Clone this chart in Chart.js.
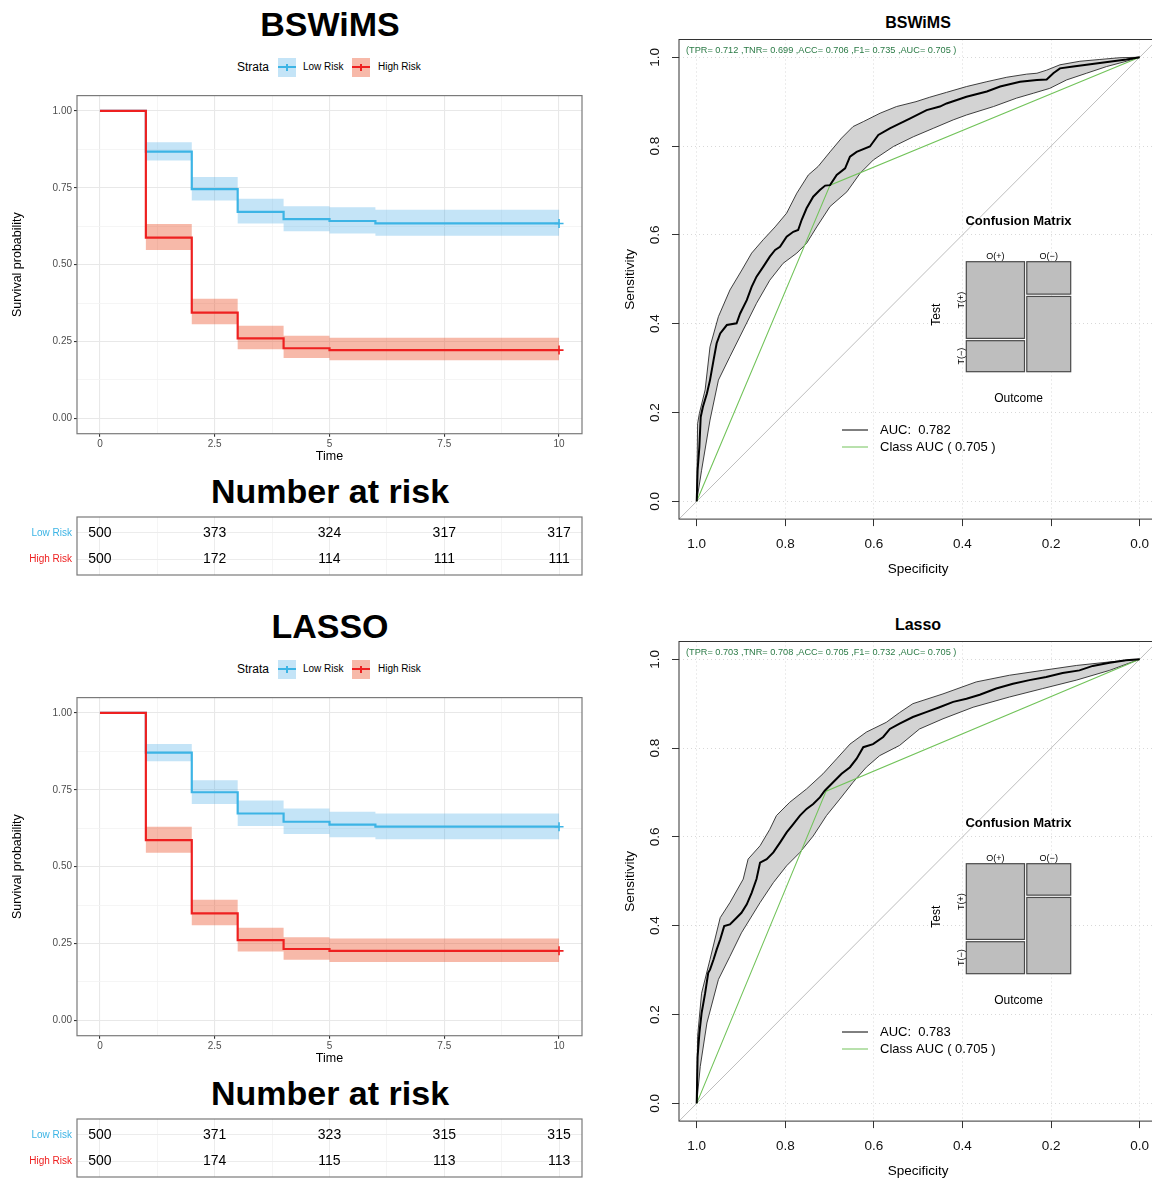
<!DOCTYPE html>
<html>
<head>
<meta charset="utf-8">
<title>BSWiMS vs LASSO: survival by risk group and ROC</title>
<script src="https://cdn.jsdelivr.net/npm/chart.js@4.4.1/dist/chart.umd.min.js"></script>
<style>
  html, body { margin:0; padding:0; background:#fff; }
  body { position:relative; width:1152px; height:1181px; overflow:hidden;
         font-family:"Liberation Sans", Arial, Helvetica, sans-serif; color:#000; }
  canvas { position:absolute; }
  .txt { position:absolute; white-space:nowrap; line-height:1; }
  .key { position:absolute; width:18px; height:19px; }
  .key .h { position:absolute; left:0; right:0; top:8.5px; height:2px; }
  .key .v { position:absolute; left:8.2px; width:1.6px; top:6px; height:7px; }
</style>
</head>
<body>
<script>
// ---------------- data ----------------
// Kaplan–Meier axes
const timeTicks = [0, 2.5, 5, 7.5, 10];
const survTicks = [0, 0.25, 0.5, 0.75, 1];
const followUpEnd = 10;

// Event times for each risk group; each estimate holds until the next time
const kmTimesLow  = [0, 1, 2, 3, 4, 5, 6];
const kmTimesHigh = [0, 1, 2, 3, 4, 5];

const bswLowSurv   = [1.000, 0.868, 0.746, 0.672, 0.648, 0.642, 0.634];
const bswLowLower  = [1.000, 0.839, 0.709, 0.634, 0.609, 0.601, 0.594];
const bswLowUpper  = [1.000, 0.898, 0.785, 0.714, 0.690, 0.687, 0.679];
const bswHighSurv  = [1.000, 0.588, 0.344, 0.260, 0.228, 0.222];
const bswHighLower = [1.000, 0.548, 0.306, 0.225, 0.196, 0.189];
const bswHighUpper = [1.000, 0.632, 0.389, 0.301, 0.269, 0.262];

const lassoLowSurv   = [1.000, 0.871, 0.742, 0.673, 0.646, 0.637, 0.630];
const lassoLowLower  = [1.000, 0.843, 0.704, 0.632, 0.606, 0.596, 0.589];
const lassoLowUpper  = [1.000, 0.899, 0.781, 0.715, 0.689, 0.679, 0.673];
const lassoHighSurv  = [1.000, 0.586, 0.348, 0.261, 0.232, 0.226];
const lassoHighLower = [1.000, 0.545, 0.309, 0.224, 0.197, 0.190];
const lassoHighUpper = [1.000, 0.630, 0.392, 0.301, 0.270, 0.266];

// Number at risk
const riskTimes  = [0, 2.5, 5, 7.5, 10];
const riskGroups = ['Low Risk', 'High Risk'];
const bswRiskLow    = [500, 373, 324, 317, 317];
const bswRiskHigh   = [500, 172, 114, 111, 111];
const lassoRiskLow  = [500, 371, 323, 315, 315];
const lassoRiskHigh = [500, 174, 115, 113, 113];

// ROC: [specificity, sensitivity]
const rocTicks = [0, 0.2, 0.4, 0.6, 0.8, 1];
const metricNames  = ['TPR', 'TNR', 'ACC', 'F1', 'AUC'];
const bswMetrics   = [0.712, 0.699, 0.706, 0.735, 0.705];
const lassoMetrics = [0.703, 0.708, 0.705, 0.732, 0.705];
const bswAuc = 0.782;
const lassoAuc = 0.783;
const outcomeShare = [0.57, 0.43];   // O(+), O(-)

const bswRoc = [[1.000,0.000],[0.998,0.070],[0.994,0.123],[0.991,0.190],[0.986,0.213],[0.977,0.243],[0.970,0.273],[0.962,0.318],[0.955,0.356],[0.947,0.378],[0.932,0.397],[0.910,0.401],[0.902,0.423],[0.887,0.453],[0.876,0.483],[0.865,0.506],[0.850,0.528],[0.835,0.551],[0.823,0.566],[0.812,0.573],[0.797,0.596],[0.782,0.607],[0.771,0.611],[0.763,0.634],[0.752,0.660],[0.737,0.686],[0.722,0.701],[0.710,0.711],[0.699,0.712],[0.684,0.735],[0.665,0.750],[0.654,0.776],[0.639,0.787],[0.609,0.799],[0.590,0.825],[0.564,0.840],[0.541,0.851],[0.519,0.862],[0.481,0.881],[0.451,0.889],[0.436,0.896],[0.391,0.911],[0.345,0.923],[0.315,0.934],[0.270,0.945],[0.232,0.949],[0.210,0.950],[0.195,0.964],[0.180,0.975],[0.150,0.979],[0.120,0.983],[0.090,0.987],[0.060,0.991],[0.030,0.995],[0.000,1.000]];
const bswRocUpper = [[1.000,0.000],[0.998,0.175],[0.994,0.198],[0.981,0.251],[0.970,0.348],[0.951,0.416],[0.925,0.476],[0.898,0.521],[0.876,0.559],[0.850,0.589],[0.823,0.618],[0.797,0.649],[0.774,0.694],[0.748,0.735],[0.726,0.754],[0.699,0.787],[0.673,0.818],[0.647,0.844],[0.624,0.855],[0.586,0.874],[0.549,0.889],[0.505,0.900],[0.474,0.910],[0.436,0.921],[0.391,0.934],[0.345,0.945],[0.300,0.955],[0.255,0.962],[0.232,0.964],[0.210,0.971],[0.180,0.983],[0.135,0.991],[0.090,0.995],[0.045,0.999],[0.000,1.000]];
const bswRocLower = [[1.000,0.000],[0.989,0.070],[0.970,0.183],[0.951,0.273],[0.925,0.326],[0.895,0.386],[0.865,0.446],[0.835,0.498],[0.805,0.536],[0.774,0.559],[0.752,0.581],[0.729,0.618],[0.699,0.664],[0.661,0.697],[0.631,0.739],[0.601,0.769],[0.556,0.799],[0.511,0.821],[0.466,0.840],[0.421,0.859],[0.391,0.870],[0.330,0.889],[0.278,0.908],[0.240,0.919],[0.203,0.930],[0.165,0.949],[0.120,0.964],[0.075,0.979],[0.030,0.991],[0.000,1.000]];

const lassoRoc = [[1.000,0.000],[0.998,0.105],[0.994,0.158],[0.989,0.203],[0.981,0.248],[0.974,0.294],[0.970,0.301],[0.962,0.324],[0.955,0.346],[0.947,0.369],[0.938,0.399],[0.925,0.403],[0.910,0.418],[0.899,0.429],[0.887,0.448],[0.876,0.474],[0.865,0.505],[0.857,0.542],[0.842,0.550],[0.827,0.565],[0.812,0.587],[0.797,0.610],[0.782,0.629],[0.767,0.648],[0.752,0.663],[0.737,0.674],[0.722,0.689],[0.711,0.704],[0.692,0.723],[0.673,0.742],[0.654,0.757],[0.639,0.776],[0.624,0.802],[0.602,0.809],[0.579,0.825],[0.564,0.843],[0.542,0.855],[0.512,0.870],[0.482,0.881],[0.452,0.892],[0.421,0.904],[0.391,0.911],[0.361,0.920],[0.324,0.934],[0.286,0.945],[0.249,0.953],[0.211,0.960],[0.174,0.969],[0.136,0.975],[0.106,0.985],[0.068,0.992],[0.031,0.998],[0.000,1.000]];
const lassoRocUpper = [[1.000,0.000],[0.998,0.151],[0.989,0.248],[0.970,0.324],[0.947,0.418],[0.925,0.452],[0.895,0.505],[0.884,0.550],[0.857,0.580],[0.835,0.617],[0.820,0.648],[0.790,0.678],[0.752,0.708],[0.715,0.742],[0.684,0.776],[0.654,0.809],[0.617,0.836],[0.572,0.858],[0.542,0.880],[0.512,0.900],[0.444,0.922],[0.369,0.949],[0.294,0.964],[0.219,0.975],[0.143,0.986],[0.068,0.994],[0.000,1.000]];
const lassoRocLower = [[1.000,0.000],[0.992,0.083],[0.977,0.181],[0.951,0.279],[0.925,0.331],[0.899,0.384],[0.857,0.452],[0.827,0.497],[0.797,0.535],[0.767,0.565],[0.737,0.602],[0.707,0.648],[0.677,0.685],[0.647,0.723],[0.617,0.757],[0.587,0.783],[0.542,0.806],[0.497,0.843],[0.444,0.866],[0.376,0.892],[0.294,0.915],[0.219,0.934],[0.143,0.953],[0.068,0.975],[0.000,1.000]];

// ---------------- styling ----------------
const FONT = '"Liberation Sans", Arial, Helvetica, sans-serif';
const LOW_COLOR = '#3cb4e5';
const HIGH_COLOR = '#ee2020';
const LOW_BAND = 'rgba(60,165,230,0.30)';
const HIGH_BAND = 'rgba(233,72,30,0.38)';
const CLASS_GREEN = '#72c35a';
const METRIC_GREEN = '#2a7a45';

Chart.defaults.font.family = FONT;
Chart.defaults.color = '#000';
Chart.defaults.animation = false;
Chart.defaults.responsive = false;
Chart.defaults.events = [];
Chart.defaults.plugins.legend.display = false;
Chart.defaults.plugins.tooltip.enabled = false;

// ---------------- helpers ----------------
function addCanvas(x, y, w, h) {
  const c = document.createElement('canvas');
  c.width = w; c.height = h;
  c.style.left = x + 'px'; c.style.top = y + 'px';
  c.style.width = w + 'px'; c.style.height = h + 'px';
  document.body.appendChild(c);
  return c;
}
function addText(text, x, y, css, centered) {
  const d = document.createElement('div');
  d.className = 'txt';
  d.textContent = text;
  d.style.cssText = `left:${x}px;top:${y}px;${css}` +
    (centered ? 'transform:translate(-50%,-50%);' : 'transform:translate(0,-50%);');
  document.body.appendChild(d);
}
function addKey(x, y, line, band) {
  const k = document.createElement('div');
  k.className = 'key';
  k.style.left = x + 'px'; k.style.top = y + 'px'; k.style.background = band;
  k.innerHTML = `<div class="h" style="background:${line}"></div><div class="v" style="background:${line}"></div>`;
  document.body.appendChild(k);
}
function withMinor(major) {
  const out = [];
  major.forEach((v, i) => { if (i > 0) out.push((major[i - 1] + v) / 2); out.push(v); });
  return out;
}
function stepLine(times, values, end) {
  const pts = [];
  times.forEach((t, i) => {
    if (i > 0) pts.push({ x: t, y: values[i - 1] });
    pts.push({ x: t, y: values[i] });
  });
  pts.push({ x: end, y: values[values.length - 1] });
  return pts;
}
function stepBand(times, lower, upper, end) {
  return stepLine(times, upper, end).concat(stepLine(times, lower, end).reverse());
}
const toPoints = pairs => pairs.map(([s, v]) => ({ x: s, y: v }));
const last = a => a[a.length - 1];

const timeGrid = withMinor(timeTicks);
const survGrid = withMinor(survTicks);
const isMajorT = c => c.tick && timeTicks.includes(c.tick.value);
const isMajorS = c => c.tick && survTicks.includes(c.tick.value);

// ---------------- plugins ----------------
const panelBorder = {
  id: 'panelBorder',
  afterDraw(chart, args, o) {
    const { ctx, chartArea: a } = chart;
    ctx.save();
    ctx.strokeStyle = o.color || '#7a7a7a';
    ctx.lineWidth = o.width || 1.2;
    ctx.strokeRect(a.left, a.top, a.right - a.left, a.bottom - a.top);
    ctx.restore();
  }
};

const riskNumbers = {
  id: 'riskNumbers',
  afterDraw(chart, args, o) {
    const { ctx, scales: { x, y } } = chart;
    ctx.save();
    ctx.font = `14px ${FONT}`;
    ctx.fillStyle = '#000';
    ctx.textAlign = 'center';
    ctx.textBaseline = 'middle';
    o.rows.forEach((row, r) => {
      const yy = y.getPixelForValue(riskGroups.length - r);
      row.forEach((n, i) => ctx.fillText(String(n), x.getPixelForValue(riskTimes[i]), yy));
    });
    ctx.restore();
  }
};

const rocNotes = {
  id: 'rocNotes',
  afterDraw(chart, args, o) {
    const { ctx, chartArea: a, scales: { y } } = chart;
    ctx.save();
    // box around the plotting region
    ctx.strokeStyle = '#333';
    ctx.lineWidth = 1;
    ctx.strokeRect(a.left, a.top, a.right - a.left, a.bottom - a.top);
    // sensitivity labels, parallel to the axis
    ctx.fillStyle = '#111';
    ctx.font = `13.5px ${FONT}`;
    ctx.textAlign = 'center';
    ctx.textBaseline = 'middle';
    y.ticks.forEach(t => {
      ctx.save();
      ctx.translate(a.left - 24, y.getPixelForValue(t.value));
      ctx.rotate(-Math.PI / 2);
      ctx.fillText(t.value.toFixed(1), 0, 0);
      ctx.restore();
    });
    // classifier summary
    ctx.fillStyle = METRIC_GREEN;
    ctx.font = `9.2px ${FONT}`;
    ctx.textAlign = 'left';
    ctx.fillText(o.metrics, a.left + 7, a.top + 11);
    // legend
    ctx.font = `13px ${FONT}`;
    ctx.fillStyle = '#000';
    o.legend.forEach((item, i) => {
      const yy = a.top + 390.5 + i * 17;
      ctx.strokeStyle = item.color;
      ctx.lineWidth = 1;
      ctx.beginPath();
      ctx.moveTo(a.left + 163, yy);
      ctx.lineTo(a.left + 189, yy);
      ctx.stroke();
      ctx.fillText(item.text, a.left + 201, yy);
    });
    ctx.restore();
  }
};

const mosaicPlot = {
  id: 'mosaicPlot',
  afterDraw(chart, args, o) {
    const { ctx, chartArea: a, scales: { x, y } } = chart;
    const gx = 0.022, gy = 0.021;
    const w0 = o.share[0] * (1 - gx);
    const cols = [
      { x0: 0, x1: w0, pos: o.tpr, label: 'O(+)' },
      { x0: w0 + gx, x1: 1, pos: 1 - o.tnr, label: 'O(\u2212)' }
    ];
    const px = v => x.getPixelForValue(v);
    const py = v => y.getPixelForValue(v);
    const rect = (x0, y0, x1, y1) => {
      const L = px(x0), R = px(x1), T = py(y1), B = py(y0);
      ctx.fillRect(L, T, R - L, B - T);
      ctx.strokeRect(L, T, R - L, B - T);
    };
    ctx.save();
    ctx.fillStyle = '#bebebe';
    ctx.strokeStyle = '#4a4a4a';
    ctx.lineWidth = 1.2;
    const rows = [];
    cols.forEach(c => {
      const hTop = c.pos * (1 - gy);
      ctx.fillStyle = '#bebebe';
      rect(c.x0, 1 - hTop, c.x1, 1);
      rect(c.x0, 0, c.x1, 1 - hTop - gy);
      rows.push([(1 + 1 - hTop) / 2, (1 - hTop - gy) / 2]);
    });
    ctx.fillStyle = '#000';
    ctx.textAlign = 'center';
    ctx.textBaseline = 'middle';
    ctx.font = `bold 13px ${FONT}`;
    ctx.fillText('Confusion Matrix', (a.left + a.right) / 2, a.top - 40);
    ctx.font = `9px ${FONT}`;
    cols.forEach(c => ctx.fillText(c.label, px((c.x0 + c.x1) / 2), a.top - 5));
    [['T(+)', rows[0][0]], ['T(\u2212)', rows[0][1]]].forEach(([t, v]) => {
      ctx.save();
      ctx.translate(a.left - 4.6, py(v));
      ctx.rotate(-Math.PI / 2);
      ctx.fillText(t, 0, 0);
      ctx.restore();
    });
    ctx.font = `12px ${FONT}`;
    ctx.fillText('Outcome', (a.left + a.right) / 2, a.bottom + 26.6);
    ctx.save();
    ctx.translate(a.left - 29.6, (a.top + a.bottom) / 2 - 2);
    ctx.rotate(-Math.PI / 2);
    ctx.fillText('Test', 0, 0);
    ctx.restore();
    ctx.restore();
  }
};

// ---------------- panels ----------------
function survivalPanel(p) {
  const dy = p.dy;
  addText(p.name, 330, 24 + dy, 'font-size:34px;font-weight:bold;', true);
  addText('Strata', 237, 67 + dy, 'font-size:12px;', false);
  addKey(278, 57.5 + dy, LOW_COLOR, LOW_BAND);
  addText(riskGroups[0], 303, 67 + dy, 'font-size:10px;', false);
  addKey(352, 57.5 + dy, HIGH_COLOR, HIGH_BAND);
  addText(riskGroups[1], 378, 67 + dy, 'font-size:10px;', false);

  const cv = addCanvas(0, 86 + dy, 590, 384);
  new Chart(cv, {
    type: 'line',
    data: {
      datasets: [
        { data: [{ x: followUpEnd, y: last(p.high[0]) }], borderColor: HIGH_COLOR, pointStyle: 'cross',
          pointRadius: 4.5, pointBorderWidth: 1.6, showLine: false },
        { data: [{ x: followUpEnd, y: last(p.low[0]) }], borderColor: LOW_COLOR, pointStyle: 'cross',
          pointRadius: 4.5, pointBorderWidth: 1.6, showLine: false },
        { data: stepLine(kmTimesHigh, p.high[0], followUpEnd), borderColor: HIGH_COLOR, borderWidth: 2.2, pointRadius: 0 },
        { data: stepLine(kmTimesLow, p.low[0], followUpEnd), borderColor: LOW_COLOR, borderWidth: 2.2, pointRadius: 0 },
        { data: stepBand(kmTimesHigh, p.high[1], p.high[2], followUpEnd), fill: 'shape', backgroundColor: HIGH_BAND,
          borderColor: 'rgba(0,0,0,0)', borderWidth: 1, pointRadius: 0 },
        { data: stepBand(kmTimesLow, p.low[1], p.low[2], followUpEnd), fill: 'shape', backgroundColor: LOW_BAND,
          borderColor: 'rgba(0,0,0,0)', borderWidth: 1, pointRadius: 0 }
      ]
    },
    options: {
      layout: { padding: { left: 0, top: 9.6, right: 8, bottom: 0 } },
      plugins: { panelBorder: { color: '#7a7a7a', width: 1.2 } },
      scales: {
        x: {
          type: 'linear', min: -0.5, max: 10.5,
          afterBuildTicks: s => { s.ticks = timeGrid.map(v => ({ value: v })); },
          afterFit: s => { s.height = 36.3; },
          border: { display: false },
          grid: {
            color: c => isMajorT(c) ? '#e8e8e8' : '#f3f3f3',
            lineWidth: c => isMajorT(c) ? 1.1 : 0.8,
            tickColor: c => isMajorT(c) ? '#333' : 'rgba(0,0,0,0)',
            tickLength: 3
          },
          ticks: { autoSkip: false, maxRotation: 0, padding: 1.5, color: '#4d4d4d', font: { size: 10 },
                   callback: v => timeTicks.includes(v) ? String(v) : '' },
          title: { display: true, text: 'Time', color: '#000', font: { size: 12.5 }, padding: { top: 0, bottom: 5.5 } }
        },
        y: {
          type: 'linear', min: -0.05, max: 1.05,
          afterBuildTicks: s => { s.ticks = survGrid.map(v => ({ value: v })); },
          afterFit: s => { s.width = 77; },
          border: { display: false },
          grid: {
            color: c => isMajorS(c) ? '#e8e8e8' : '#f3f3f3',
            lineWidth: c => isMajorS(c) ? 1.1 : 0.8,
            tickColor: c => isMajorS(c) ? '#333' : 'rgba(0,0,0,0)',
            tickLength: 3
          },
          ticks: { autoSkip: false, padding: 2, color: '#4d4d4d', font: { size: 10 },
                   callback: v => survTicks.includes(v) ? v.toFixed(2) : '' },
          title: { display: true, text: 'Survival probability', color: '#000', font: { size: 12.5 },
                   padding: { top: 10, bottom: 0 } }
        }
      }
    },
    plugins: [panelBorder]
  });

  // number-at-risk table
  addText('Number at risk', 330, 491 + dy, 'font-size:34px;font-weight:bold;', true);
  const tv = addCanvas(0, 506 + dy, 590, 80);
  const groupColors = [LOW_COLOR, HIGH_COLOR];
  new Chart(tv, {
    type: 'line',
    data: { datasets: [] },
    options: {
      layout: { padding: { left: 0, top: 10.7, right: 8, bottom: 9.3 } },
      plugins: { panelBorder: { color: '#7a7a7a', width: 1.2 }, riskNumbers: { rows: p.risk } },
      scales: {
        x: {
          type: 'linear', min: -0.5, max: 10.5,
          afterBuildTicks: s => { s.ticks = timeGrid.map(v => ({ value: v })); },
          afterFit: s => { s.height = 0; },
          border: { display: false },
          grid: { color: c => isMajorT(c) ? '#ececec' : '#f5f5f5', drawTicks: false },
          ticks: { display: false }
        },
        y: {
          type: 'linear', min: 0.4, max: riskGroups.length + 0.6,
          afterBuildTicks: s => { s.ticks = riskGroups.map((g, i) => ({ value: riskGroups.length - i })); },
          afterFit: s => { s.width = 77; },
          border: { display: false },
          grid: { color: '#ececec', drawTicks: false },
          ticks: { padding: 5, font: { size: 10 },
                   color: c => groupColors[riskGroups.length - c.tick.value],
                   callback: v => riskGroups[riskGroups.length - v] }
        }
      }
    },
    plugins: [panelBorder, riskNumbers]
  });
}

function rocPanel(p) {
  const dy = p.dy;
  addText(p.rocName, 918, 23 + dy, 'font-size:16px;font-weight:bold;', true);
  const tpr = p.metrics[0], tnr = p.metrics[1];
  const classAuc = p.metrics[4];
  const metricsText = '(' + metricNames.map((n, i) => `${n}= ${p.metrics[i].toFixed(3)}`).join(' ,') + ' )';
  const cv = addCanvas(600, dy, 560, 590);
  const lo = -0.04, hi = 1.04;
  new Chart(cv, {
    type: 'line',
    data: {
      datasets: [
        { data: toPoints(p.roc), borderColor: '#000', borderWidth: 2, pointRadius: 0 },
        { data: toPoints([[1, 0], [tnr, tpr], [0, 1]]), borderColor: CLASS_GREEN, borderWidth: 1.1, pointRadius: 0 },
        { data: toPoints(p.upper.concat(p.lower.slice().reverse())), fill: 'shape', backgroundColor: '#d3d3d3',
          borderColor: '#2a2a2a', borderWidth: 0.9, pointRadius: 0 },
        // chance line: sensitivity = 1 - specificity, across the whole box
        { data: [{ x: hi, y: 1 - hi }, { x: lo, y: 1 - lo }], borderColor: '#bdbdbd', borderWidth: 1, pointRadius: 0 }
      ]
    },
    options: {
      layout: { padding: { left: 0, top: 39.5, right: 2.6, bottom: 0 } },
      plugins: {
        rocNotes: {
          metrics: metricsText,
          legend: [
            { text: 'AUC:  ' + p.auc.toFixed(3), color: '#000' },
            { text: 'Class AUC ( ' + classAuc.toFixed(3) + ' )', color: CLASS_GREEN }
          ]
        }
      },
      scales: {
        x: {
          type: 'linear', reverse: true, min: lo, max: hi,
          afterBuildTicks: s => { s.ticks = rocTicks.map(v => ({ value: v })); },
          afterFit: s => { s.height = 70.9; },
          border: { display: false, dash: [1, 3] },
          grid: { color: '#d8d8d8', lineWidth: 1, tickColor: '#333', tickLength: 7, tickWidth: 1 },
          ticks: { autoSkip: false, maxRotation: 0, padding: 9.8, color: '#111', font: { size: 13.5 },
                   callback: v => v.toFixed(1) },
          title: { display: true, text: 'Specificity', color: '#000', font: { size: 13.5 },
                   padding: { top: 0, bottom: 12.9 } }
        },
        y: {
          type: 'linear', min: lo, max: hi,
          afterBuildTicks: s => { s.ticks = rocTicks.map(v => ({ value: v })); },
          afterFit: s => { s.width = 79; },
          border: { display: false, dash: [1, 3] },
          grid: { color: '#d8d8d8', lineWidth: 1, tickColor: '#333', tickLength: 7, tickWidth: 1 },
          ticks: { display: false },
          title: { display: true, text: 'Sensitivity', color: '#000', font: { size: 13.5 },
                   padding: { top: 21.9, bottom: 0 } }
        }
      }
    },
    plugins: [rocNotes]
  });

  // confusion-matrix mosaic
  const mv = addCanvas(925, 200 + dy, 160, 210);
  new Chart(mv, {
    type: 'line',
    data: { datasets: [] },
    options: {
      layout: { padding: { left: 41.3, top: 61.7, right: 14.3, bottom: 38.3 } },
      plugins: { mosaicPlot: { tpr, tnr, share: outcomeShare } },
      scales: {
        x: { type: 'linear', min: 0, max: 1, display: false },
        y: { type: 'linear', min: 0, max: 1, display: false }
      }
    },
    plugins: [mosaicPlot]
  });
}

const panels = [
  { dy: 0, name: 'BSWiMS', rocName: 'BSWiMS',
    low: [bswLowSurv, bswLowLower, bswLowUpper], high: [bswHighSurv, bswHighLower, bswHighUpper],
    risk: [bswRiskLow, bswRiskHigh],
    roc: bswRoc, upper: bswRocUpper, lower: bswRocLower, metrics: bswMetrics, auc: bswAuc },
  { dy: 602, name: 'LASSO', rocName: 'Lasso',
    low: [lassoLowSurv, lassoLowLower, lassoLowUpper], high: [lassoHighSurv, lassoHighLower, lassoHighUpper],
    risk: [lassoRiskLow, lassoRiskHigh],
    roc: lassoRoc, upper: lassoRocUpper, lower: lassoRocLower, metrics: lassoMetrics, auc: lassoAuc }
];

panels.forEach(p => { survivalPanel(p); rocPanel(p); });
</script>
</body>
</html>
